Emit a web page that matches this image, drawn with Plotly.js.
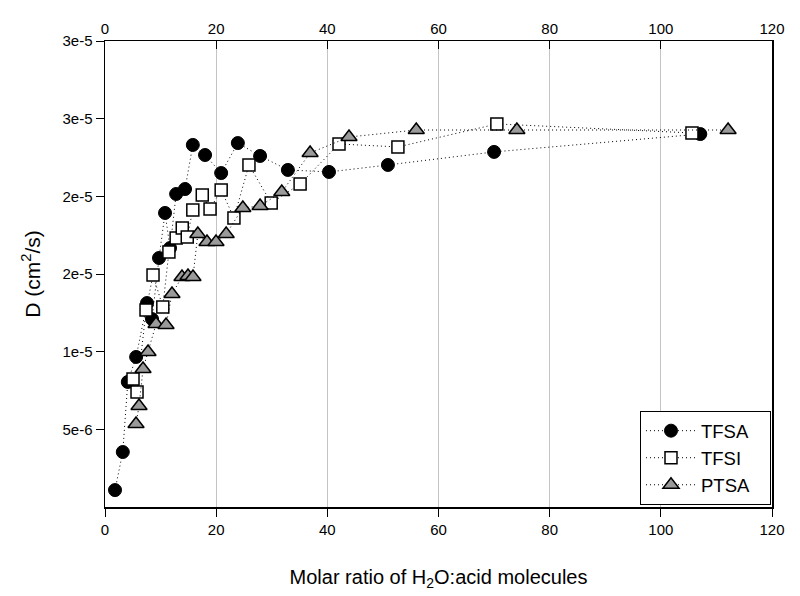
<!DOCTYPE html>
<html>
<head>
<meta charset="utf-8">
<script src="https://cdn.plot.ly/plotly-3.0.1.min.js"></script>
<style>html,body{margin:0;padding:0;background:#fff;}</style>
</head>
<body>
<div id="chart" style="width:800px;height:596px;"></div>
<script>
const tfsaX = [1.8, 3.2, 4.1, 5.6, 7.56, 8.46, 9.72, 10.8, 11.7, 12.8, 14.4, 15.8, 18.0, 20.9, 23.9, 27.9, 32.9, 40.3, 50.9, 70.0, 107.1];
const tfsaY = [1.09e-6, 3.54e-6, 8.05e-6, 9.66e-6, 1.313e-5, 1.210e-5, 1.603e-5, 1.893e-5, 1.667e-5, 2.015e-5, 2.047e-5, 2.331e-5, 2.266e-5, 2.150e-5, 2.343e-5, 2.260e-5, 2.170e-5, 2.157e-5, 2.202e-5, 2.286e-5, 2.401e-5];

const tfsiX = [5.04, 5.76, 7.38, 8.64, 10.4, 11.5, 12.8, 13.9, 14.8, 15.8, 17.5, 18.9, 20.9, 23.2, 25.9, 29.9, 35.1, 42.1, 52.7, 70.5, 105.6];
const tfsiY = [8.24e-6, 7.40e-6, 1.268e-5, 1.494e-5, 1.288e-5, 1.642e-5, 1.732e-5, 1.796e-5, 1.738e-5, 1.912e-5, 2.009e-5, 1.919e-5, 2.041e-5, 1.861e-5, 2.202e-5, 1.957e-5, 2.079e-5, 2.337e-5, 2.318e-5, 2.466e-5, 2.408e-5];

const ptsaX = [5.58, 6.12, 6.84, 7.74, 9.18, 10.98, 12.05, 13.85, 14.93, 15.83, 16.7, 18.35, 19.97, 21.8, 24.8, 27.9, 31.8, 36.9, 43.9, 56.0, 74.1, 112.1];
const ptsaY = [5.34e-6, 6.50e-6, 8.88e-6, 9.98e-6, 1.178e-5, 1.172e-5, 1.371e-5, 1.481e-5, 1.487e-5, 1.481e-5, 1.758e-5, 1.706e-5, 1.706e-5, 1.758e-5, 1.925e-5, 1.938e-5, 2.028e-5, 2.279e-5, 2.382e-5, 2.427e-5, 2.427e-5, 2.427e-5];

const seriesNames = ["TFSA", "TFSI", "PTSA"];
const xTicks = [0, 20, 40, 60, 80, 100, 120];
const yTickVals = [5e-6, 1e-5, 1.5e-5, 2e-5, 2.5e-5, 3e-5];
const yTickText = ["5e-6", "1e-5", "2e-5", "2e-5", "3e-5", "3e-5"];

const FONT = "Liberation Sans, Arial, Helvetica, sans-serif";
const lineStyle = {color: "#000", width: 1, dash: "1px,3px"};
const pad = "\u00a0\u00a0\u00a0";

const traces = [
  {x: tfsaX, y: tfsaY, name: seriesNames[0] + pad, mode: "lines+markers", line: lineStyle,
   marker: {symbol: "circle", size: 13, color: "#000", line: {color: "#000", width: 1}}},
  {x: tfsiX, y: tfsiY, name: seriesNames[1] + pad, mode: "lines+markers", line: lineStyle,
   marker: {symbol: "square", size: 12, color: "#fff", line: {color: "#000", width: 1.5}}},
  {x: ptsaX, y: ptsaY, name: seriesNames[2] + pad, mode: "lines+markers", line: lineStyle,
   marker: {symbol: "triangle-up", size: 14, color: "#9a9a9a", line: {color: "#000", width: 1.5}}},
  {x: [0, 120], y: [null, null], xaxis: "x2", mode: "markers", showlegend: false, hoverinfo: "skip"}
];

const layout = {
  width: 800, height: 596,
  margin: {l: 105, r: 28, t: 41, b: 89},
  paper_bgcolor: "#fff", plot_bgcolor: "#fff",
  font: {family: FONT, size: 15, color: "#000"},
  showlegend: true,
  legend: {x: 0.9985, xanchor: "right", y: 0.004, yanchor: "bottom",
           bgcolor: "#fff", bordercolor: "#000", borderwidth: 1,
           itemwidth: 50, tracegroupgap: 0,
           font: {family: FONT, size: 18.5, color: "#000"}},
  xaxis: {range: [0, 120], tickvals: xTicks, ticktext: xTicks.map(String),
          ticks: "outside", ticklen: 8, tickwidth: 1, tickcolor: "#000",
          showline: true, linecolor: "#000", linewidth: 1.5,
          showgrid: true, gridcolor: "#c4c4c4", gridwidth: 1, zeroline: false,
          tickfont: {family: FONT, size: 15},
          title: {text: "Molar ratio of H<sub>2</sub>O:acid molecules", font: {family: FONT, size: 20}, standoff: 33}},
  xaxis2: {range: [0, 120], overlaying: "x", side: "top", tickvals: xTicks, ticktext: xTicks.map(String),
           ticks: "inside", ticklen: 8, tickwidth: 1, tickcolor: "#000",
           showline: true, linecolor: "#000", linewidth: 1.5, showgrid: false, zeroline: false,
           tickfont: {family: FONT, size: 15}},
  yaxis: {range: [0, 3e-5], tickvals: yTickVals, ticktext: yTickText,
          ticks: "outside", ticklen: 8, tickwidth: 1, tickcolor: "#000",
          showline: true, mirror: true, linecolor: "#000", linewidth: 1.5,
          showgrid: false, zeroline: false,
          tickfont: {family: FONT, size: 15},
          title: {text: "D (cm<sup>2</sup>/s)", font: {family: FONT, size: 21}, standoff: 16}}
};

Plotly.newPlot("chart", traces, layout, {displayModeBar: false, staticPlot: true});
</script>
</body>
</html>
